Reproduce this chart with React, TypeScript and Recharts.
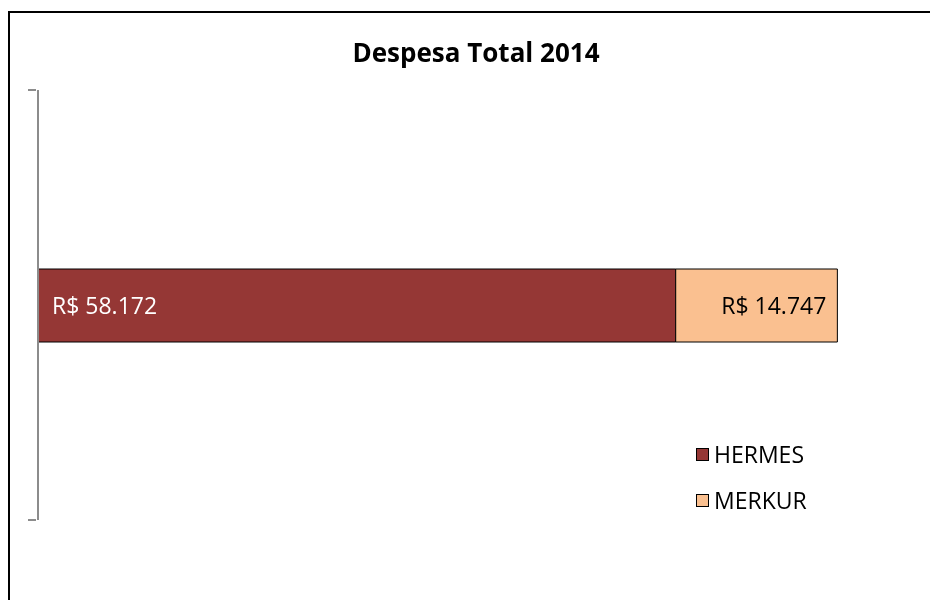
import React from 'react';
import { BarChart, Bar, XAxis, YAxis, LabelList } from 'recharts';

const categories = ['2014'];
const hermesValues = [58172];
const merkurValues = [14747];
const seriesNames = ['HERMES', 'MERKUR'];
const seriesColors = ['#953735', '#FAC090'];

const data = categories.map((c, i) => ({
  name: c,
  HERMES: hermesValues[i],
  MERKUR: merkurValues[i],
}));

const fmt = (v: number) => {
  const s = Math.round(v).toString().replace(/\B(?=(\d{3})+(?!\d))/g, '.');
  return `R$ ${s}`;
};

const FONT = '"Open Sans", Lato, sans-serif';
const AXIS_GRAY = '#8c8c8c';

const BracketTick = (props: any) => {
  const { x, y, payload } = props;
  const half = payload && payload.offset ? payload.offset : 0;
  const ax = x + 8;
  return (
    <g>
      <line x1={ax - 8} x2={ax} y1={y - half} y2={y - half} stroke={AXIS_GRAY} strokeWidth={2} />
      <line x1={ax - 8} x2={ax} y1={y + half} y2={y + half} stroke={AXIS_GRAY} strokeWidth={2} />
    </g>
  );
};

export default function App() {
  return (
    <div
      style={{
        position: 'relative',
        width: 920,
        height: 579,
        marginTop: 5,
        marginLeft: 2,
        background: '#fff',
      }}
    >
      <style>{'html,body{overflow:hidden}'}</style>
      <div
        style={{
          position: 'fixed',
          left: 8,
          top: 11,
          right: 0,
          bottom: 0,
          borderLeft: '2px solid #000',
          borderTop: '2px solid #000',
          pointerEvents: 'none',
        }}
      />
      <div
        style={{
          position: 'absolute',
          left: 0,
          width: 932,
          top: 21,
          textAlign: 'center',
          fontFamily: FONT,
          fontWeight: 700,
          fontSize: 26,
          color: '#000',
        }}
      >
        Despesa Total 2014
      </div>
      <BarChart
        width={920}
        height={587}
        data={data}
        layout="vertical"
        margin={{ top: 77, right: 15, bottom: 80, left: 8 }}
        barSize={73}
      >
        <XAxis type="number" domain={[0, 80000]} hide />
        <YAxis
          type="category"
          dataKey="name"
          width={20}
          axisLine={{ stroke: AXIS_GRAY, strokeWidth: 2 }}
          tickLine={false}
          tickSize={8}
          tick={<BracketTick />}
        />
        <Bar
          dataKey="HERMES"
          stackId="a"
          fill={seriesColors[0]}
          stroke="#000"
          strokeWidth={1}
          isAnimationActive={false}
        >
          <LabelList
            dataKey="HERMES"
            position="insideLeft"
            offset={14}
            formatter={(v: any) => fmt(Number(v))}
            style={{ fill: '#fff', fontFamily: FONT, fontSize: 23 }}
          />
        </Bar>
        <Bar
          dataKey="MERKUR"
          stackId="a"
          fill={seriesColors[1]}
          stroke="#000"
          strokeWidth={1}
          isAnimationActive={false}
        >
          <LabelList
            dataKey="MERKUR"
            position="insideRight"
            offset={11}
            formatter={(v: any) => fmt(Number(v))}
            style={{ fill: '#000', fontFamily: FONT, fontSize: 23 }}
          />
        </Bar>
      </BarChart>
      <div
        style={{
          position: 'absolute',
          left: 686,
          top: 418,
          fontFamily: FONT,
          fontSize: 23,
          color: '#000',
        }}
      >
        {seriesNames.map((n, i) => (
          <div key={n} style={{ display: 'flex', alignItems: 'center', height: 46 }}>
            <div
              style={{
                width: 11,
                height: 11,
                background: seriesColors[i],
                border: '1.5px solid #000',
                marginRight: 5,
              }}
            />
            <span>{n}</span>
          </div>
        ))}
      </div>
    </div>
  );
}
